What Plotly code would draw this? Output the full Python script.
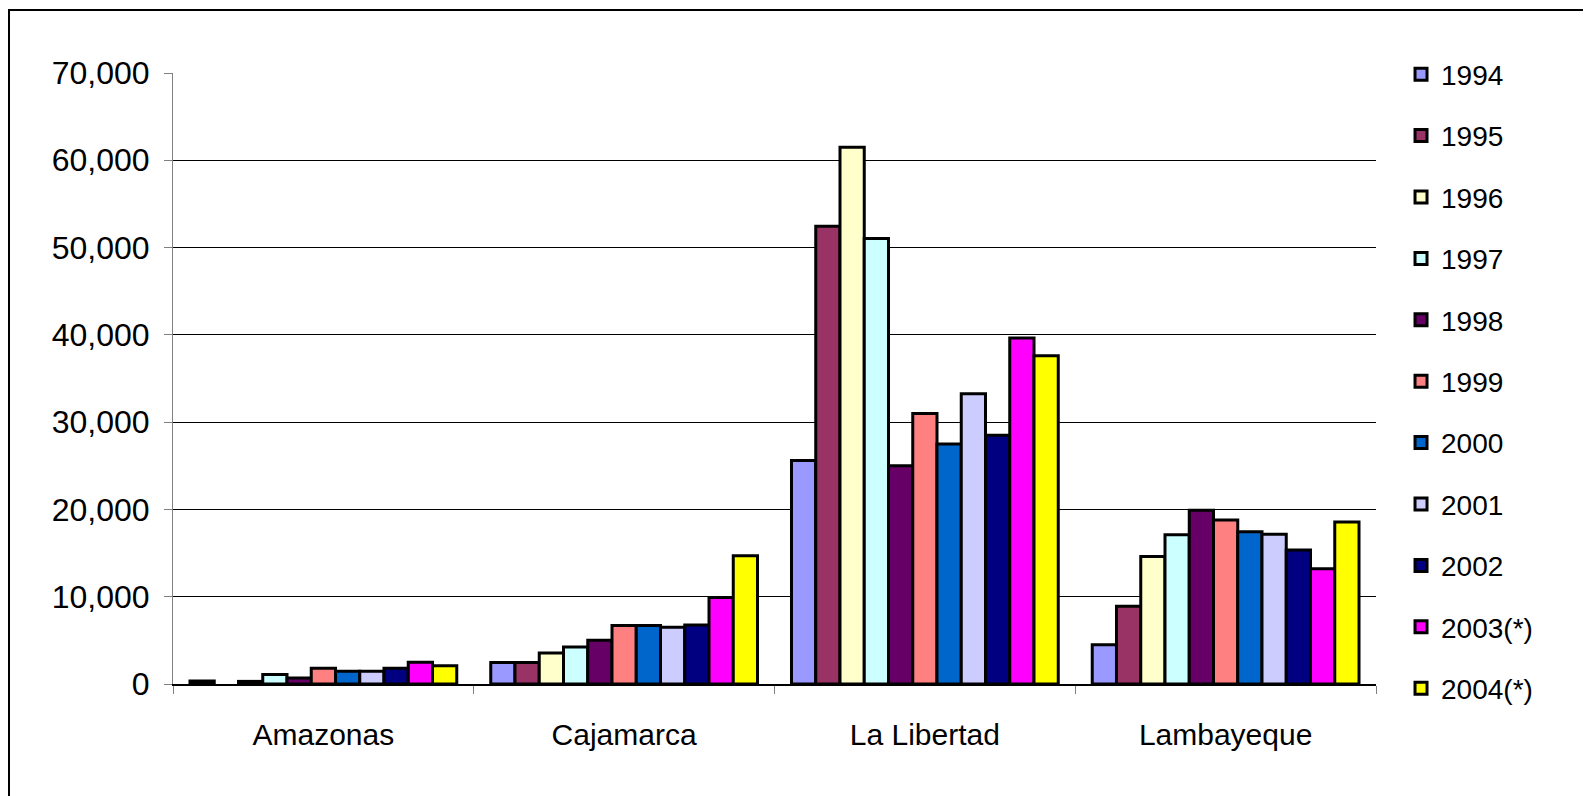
import plotly.graph_objects as go

categories = ["Amazonas", "Cajamarca", "La Libertad", "Lambayeque"]
years = ["1994", "1995", "1996", "1997", "1998", "1999", "2000", "2001", "2002", "2003(*)", "2004(*)"]

v1994 = [350, 2450, 25600, 4500]
v1995 = [None, 2450, 52450, 8900]
v1996 = [300, 3550, 61500, 14600]
v1997 = [1100, 4250, 51050, 17100]
v1998 = [700, 5000, 25000, 19900]
v1999 = [1800, 6700, 31000, 18800]
v2000 = [1450, 6700, 27500, 17450]
v2001 = [1450, 6500, 33250, 17150]
v2002 = [1800, 6750, 28500, 15350]
v2003 = [2500, 9900, 39650, 13200]
v2004 = [2100, 14700, 37600, 18550]

series = [v1994, v1995, v1996, v1997, v1998, v1999, v2000, v2001, v2002, v2003, v2004]
colors = ["#9999FF", "#993366", "#FFFFCC", "#CCFFFF", "#660066", "#FF8080",
          "#0066CC", "#CCCCFF", "#000080", "#FF00FF", "#FFFF00"]

fig = go.Figure()
for name, vals, col in zip(years, series, colors):
    fig.add_trace(go.Bar(
        x=categories, y=vals, name=name, legendgroup=name,
        marker=dict(color=col, line=dict(color="black", width=3)),
    ))

font_family = "Liberation Sans, Arial, sans-serif"
L, T, PW, PH = 165, 65, 1203, 611
fig.update_layout(
    width=1591, height=796,
    margin=dict(l=L, r=1591 - L - PW, t=T, b=796 - T - PH),
    paper_bgcolor="white", plot_bgcolor="white",
    barmode="group", bargap=0.113, bargroupgap=0,
    font=dict(family=font_family, size=28, color="black"),
    showlegend=True,
    legend=dict(
        x=1.0208, xanchor="left", y=1.0385, yanchor="top",
        traceorder="grouped", tracegroupgap=22, maxheight=780,
        font=dict(family=font_family, size=28, color="black"),
        bgcolor="rgba(0,0,0,0)",
    ),
    shapes=[dict(type="rect", xref="paper", yref="paper",
                 x0=(1 - L) / PW, x1=(1640 - L) / PW,
                 y0=(T + PH - 840) / PH, y1=(T + PH - 2) / PH,
                 line=dict(color="black", width=2), fillcolor="rgba(0,0,0,0)",
                 layer="below")],
)
fig.update_yaxes(
    range=[0, 70000], tick0=0, dtick=10000, tickformat=",d",
    showgrid=True, gridcolor="black", gridwidth=1,
    showline=True, linecolor="#808080", linewidth=1,
    ticks="outside", ticklen=8, tickcolor="#808080", ticklabelstandoff=8,
    tickfont=dict(size=32, color="black"), zeroline=False,
)
fig.update_xaxes(
    showline=True, linecolor="black", linewidth=1.5,
    ticks="outside", ticklen=8, tickcolor="#808080", tickson="boundaries",
    ticklabelstandoff=23,
    tickfont=dict(size=30, color="black"), showgrid=False,
)

fig.write_html("out.html")
